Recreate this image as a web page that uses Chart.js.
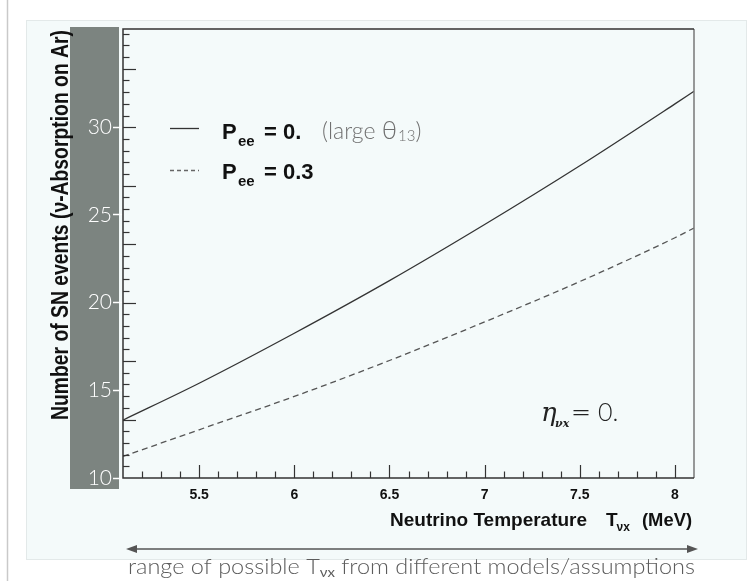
<!DOCTYPE html>
<html><head><meta charset="utf-8">
<script src="https://cdn.jsdelivr.net/npm/chart.js@4.4.1/dist/chart.umd.min.js"></script>
<style>html,body{margin:0;padding:0;background:#fff}</style>
</head><body>
<canvas id="c" width="751" height="581" style="display:block;width:751px;height:581px"></canvas>
<script>
// ---- data ----
const temperatures = [5.1, 5.5, 6.0, 6.5, 7.0, 7.5, 8.0, 8.1];
const eventsPee0   = [13.3, 15.4, 18.25, 21.25, 24.45, 27.8, 31.33, 32.05];
const eventsPee03  = [11.23, 12.75, 14.65, 16.7, 18.9, 21.2, 23.7, 24.25];
const xTickLabels  = [5.5, 6, 6.5, 7, 7.5, 8];
const yTickLabels  = [10, 15, 20, 25, 30];
const xRange = [5.1, 8.1];
const yRange = [10, 35.6];

const BOLD = '"Liberation Sans", Arial, sans-serif';
const LIGHT = 'Lato, "Open Sans", sans-serif';

function txt(ctx, s, x, y, font, color, align, maxW) {
  ctx.save();
  ctx.font = font; ctx.fillStyle = color;
  ctx.textAlign = align || 'left'; ctx.textBaseline = 'alphabetic';
  if (maxW) ctx.fillText(s, x, y, maxW); else ctx.fillText(s, x, y);
  const w = Math.min(ctx.measureText(s).width, maxW || 1e9);
  ctx.restore();
  return w;
}

const decor = {
  id: 'decor',
  beforeDraw(chart) {
    const ctx = chart.ctx;
    ctx.save();
    ctx.fillStyle = '#ffffff'; ctx.fillRect(0, 0, 751, 581);
    ctx.strokeStyle = '#c9c9c9'; ctx.lineWidth = 1.5;
    ctx.beginPath(); ctx.moveTo(7.5, 0); ctx.lineTo(7.5, 581); ctx.stroke();
    ctx.fillStyle = '#f4fafa'; ctx.fillRect(26, 20, 721, 540);
    ctx.strokeStyle = '#e3e9e9'; ctx.lineWidth = 1;
    ctx.strokeRect(26.5, 20.5, 720, 539);
    ctx.fillStyle = '#7c8480'; ctx.fillRect(70, 27, 49, 462);
    ctx.restore();
  },
  afterDraw(chart) {
    const ctx = chart.ctx, a = chart.chartArea;
    const xs = chart.scales.x, ys = chart.scales.y;
    ctx.save();
    // frame
    ctx.lineWidth = 1.5;
    ctx.strokeStyle = '#777';
    ctx.beginPath(); ctx.moveTo(a.right, a.top); ctx.lineTo(a.right, a.bottom); ctx.stroke();
    ctx.strokeStyle = '#333';
    ctx.beginPath(); ctx.moveTo(a.right, a.top); ctx.lineTo(a.left, a.top); ctx.lineTo(a.left, a.bottom); ctx.lineTo(a.right, a.bottom); ctx.stroke();
    // inner tick marks
    ctx.lineWidth = 1.2; ctx.strokeStyle = '#333';
    for (let k = 1; k < 30; k++) {
      const v = xRange[0] + k * 0.1;
      const major = Math.abs(v * 2 - Math.round(v * 2)) < 1e-6;
      const px = Math.round(xs.getPixelForValue(v)) + 0.5;
      ctx.beginPath(); ctx.moveTo(px, a.bottom); ctx.lineTo(px, a.bottom - (major ? 13 : 6.5)); ctx.stroke();
    }
    for (let k = 1; k < 39; k++) {
      const v = yRange[0] + k * 2 / 3;
      if (v >= yRange[1]) break;
      const major = k % 5 === 0;
      const py = Math.round(ys.getPixelForValue(v)) + 0.5;
      ctx.beginPath(); ctx.moveTo(a.left, py); ctx.lineTo(a.left + (major ? 13 : 6.5), py); ctx.stroke();
    }
    // y title
    ctx.save();
    ctx.translate(60, 225); ctx.rotate(-Math.PI / 2);
    txt(ctx, 'Number of SN events (\u03bd-Absorption on Ar)', 0, 8, 'bold 23px ' + BOLD, '#111', 'center', 390);
    ctx.restore();
    // x title
    let x = 390;
    txt(ctx, 'Neutrino Temperature', x, 526, 'bold 19px ' + BOLD, '#111', 'left', 201);
    x = 606;
    x += txt(ctx, 'T', x, 526, 'bold 19px ' + BOLD, '#111');
    txt(ctx, '\u03bdx', x - 1, 531, 'bold 12px ' + BOLD, '#111');
    txt(ctx, '(MeV)', 692, 526, 'bold 19px ' + BOLD, '#111', 'right', 50);
    // legend
    ctx.lineWidth = 1.3;
    ctx.strokeStyle = '#333';
    ctx.beginPath(); ctx.moveTo(170, 128.5); ctx.lineTo(199, 128.5); ctx.stroke();
    ctx.strokeStyle = '#666'; ctx.setLineDash([4, 3]);
    ctx.beginPath(); ctx.moveTo(170, 170.5); ctx.lineTo(199, 170.5); ctx.stroke();
    ctx.setLineDash([]);
    const rows = [[139, '= 0.'], [179, '= 0.3']];
    rows.forEach(([by, rest]) => {
      txt(ctx, 'P', 222, by, 'bold 22px ' + BOLD, '#111');
      txt(ctx, 'ee', 238, by + 7, 'bold 15px ' + BOLD, '#111');
      txt(ctx, rest, 264, by, 'bold 22px ' + BOLD, '#111');
    });
    let lx = 322;
    lx += txt(ctx, '(large ', lx, 139, '300 23px ' + LIGHT, '#707070');
    lx += txt(ctx, '\u03b8', lx, 139, '300 26px ' + LIGHT, '#707070');
    lx += txt(ctx, '13', lx + 1, 141, '300 15px ' + LIGHT, '#707070') + 1;
    txt(ctx, ')', lx, 139, '300 23px ' + LIGHT, '#707070');
    // eta annotation
    txt(ctx, '\u03b7', 541, 421, 'italic 26px "DejaVu Serif", serif', '#222');
    txt(ctx, '\u03bdx', 555, 427, 'italic bold 11px "DejaVu Serif", serif', '#222');
    txt(ctx, '=', 571, 421, '300 26px "DejaVu Sans", sans-serif', '#222', 'left', 20);
    txt(ctx, '0.', 598, 421, '300 25px ' + LIGHT, '#222', 'left');
    // arrow
    ctx.strokeStyle = '#555'; ctx.fillStyle = '#555'; ctx.lineWidth = 1.6;
    ctx.beginPath(); ctx.moveTo(132, 549); ctx.lineTo(692, 549); ctx.stroke();
    ctx.beginPath(); ctx.moveTo(126, 549); ctx.lineTo(137, 545); ctx.lineTo(137, 553); ctx.closePath(); ctx.fill();
    ctx.beginPath(); ctx.moveTo(698, 549); ctx.lineTo(687, 545); ctx.lineTo(687, 553); ctx.closePath(); ctx.fill();
    // bottom caption
    const parts = [['range of possible T', '300 22px ' + LIGHT, 0], ['\u03bdx', '400 14px ' + LIGHT, 3], [' from different models/assumptions', '300 22px ' + LIGHT, 0]];
    let total = 0;
    parts.forEach(p => { ctx.font = p[1]; total += ctx.measureText(p[0]).width; });
    const sx = 567 / total;
    ctx.save(); ctx.translate(128, 0); ctx.scale(sx, 1);
    let bx = 0;
    parts.forEach(p => { bx += txt(ctx, p[0], bx, 573.5 + p[2], p[1], '#5c5c5c'); });
    ctx.restore();
    ctx.restore();
  }
};

new Chart(document.getElementById('c'), {
  type: 'line',
  data: {
    datasets: [
      { label: 'Pee = 0.', data: temperatures.map((t, i) => ({ x: t, y: eventsPee0[i] })),
        borderColor: '#333', borderWidth: 1.3, pointRadius: 0, cubicInterpolationMode: 'monotone', fill: false },
      { label: 'Pee = 0.3', data: temperatures.map((t, i) => ({ x: t, y: eventsPee03[i] })),
        borderColor: '#555', borderWidth: 1.3, borderDash: [6, 4], pointRadius: 0, cubicInterpolationMode: 'monotone', fill: false }
    ]
  },
  options: {
    responsive: false, animation: false, devicePixelRatio: 1,
    layout: { padding: { left: 0, top: 29, right: 57, bottom: 0 } },
    plugins: { legend: { display: false }, tooltip: { enabled: false }, title: { display: false } },
    scales: {
      x: {
        type: 'linear', min: xRange[0], max: xRange[1],
        afterBuildTicks: s => { s.ticks = xTickLabels.map(v => ({ value: v })); },
        afterFit: s => { s.height = 103; },
        grid: { display: false, drawTicks: false },
        border: { display: false },
        ticks: { color: '#111', font: { family: BOLD, weight: 'bold', size: 14 }, padding: 9, maxRotation: 0, autoSkip: false, callback: v => String(v) }
      },
      y: {
        type: 'linear', min: yRange[0], max: yRange[1],
        afterBuildTicks: s => { s.ticks = yTickLabels.map(v => ({ value: v })); },
        afterFit: s => { s.width = 123; },
        grid: { display: true, drawOnChartArea: false, drawTicks: true, tickLength: 10, tickColor: '#ffffff', tickWidth: 1.5 },
        border: { display: false },
        ticks: { color: '#ffffff', font: { family: LIGHT, weight: '300', size: 21 }, padding: 1, autoSkip: false, callback: v => String(v) }
      }
    }
  },
  plugins: [decor]
});
</script>
</body></html>
